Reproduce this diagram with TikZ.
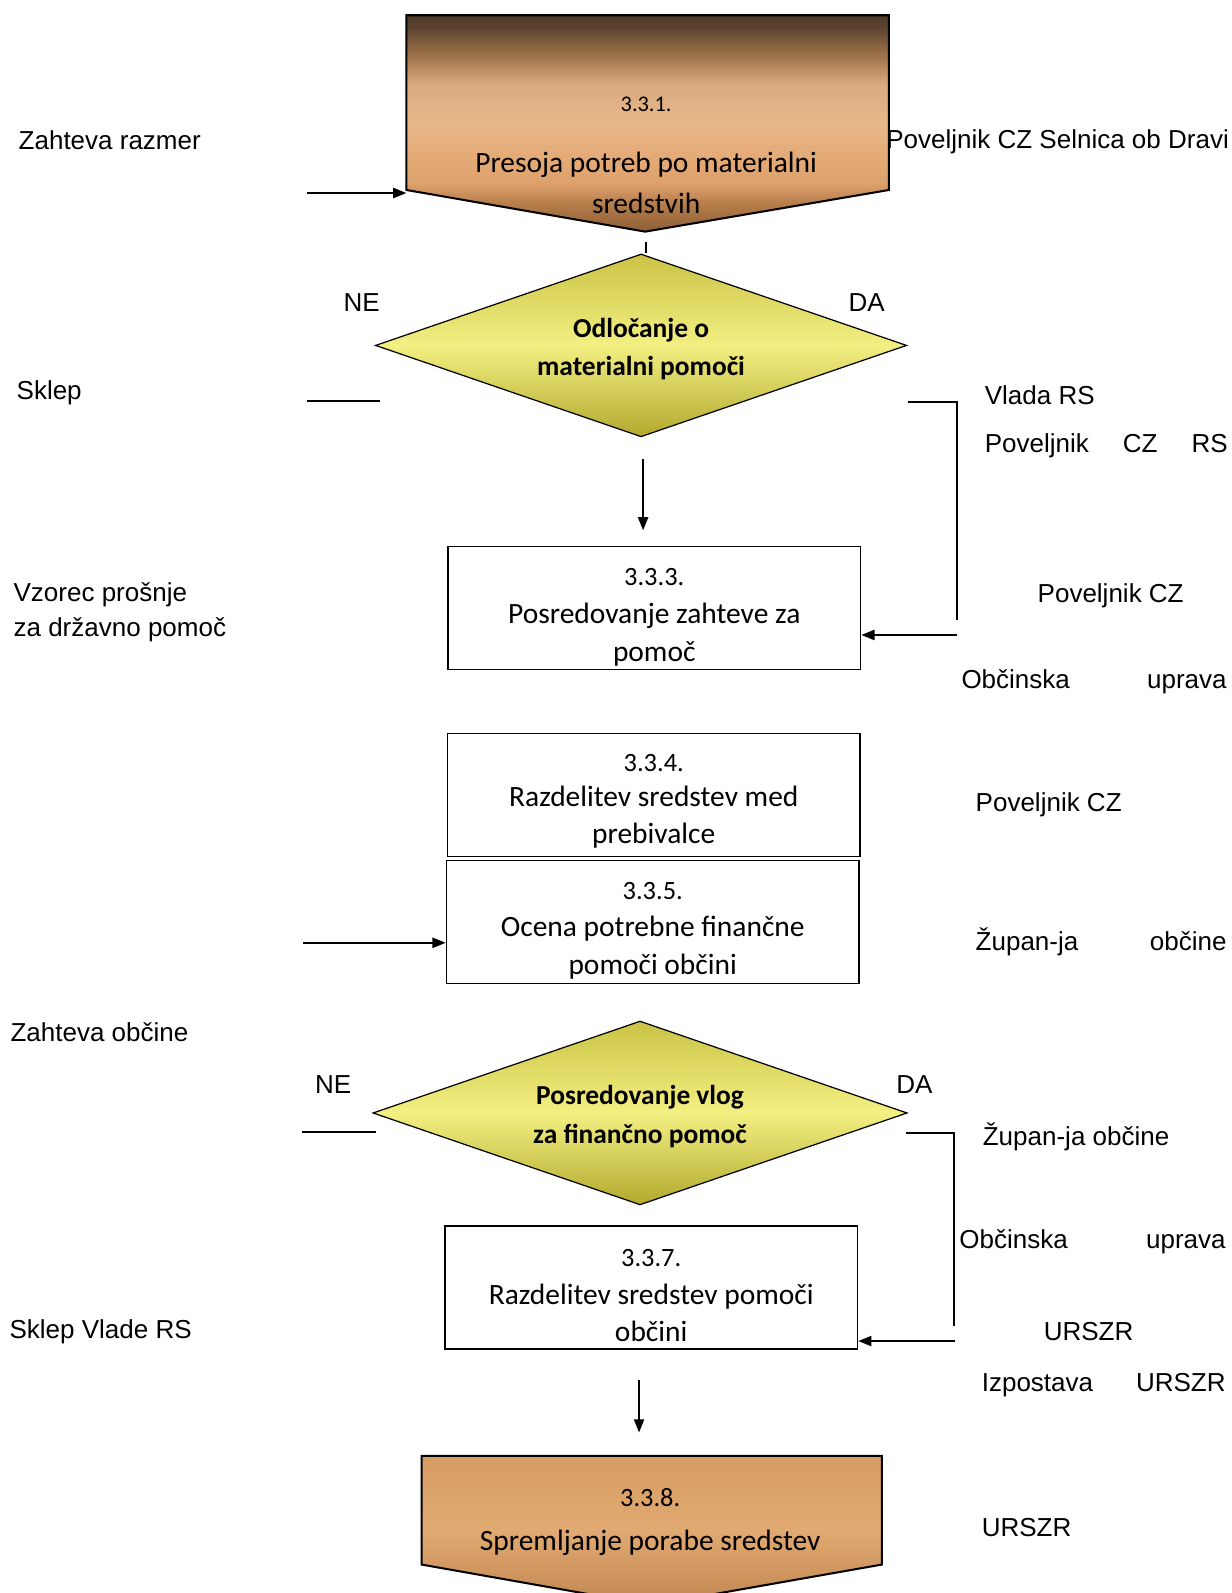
\documentclass[tikz,border=0pt]{standalone}
\usepackage{fontspec}
\setmainfont{Liberation Sans}
\newfontfamily\kalibri{Carlito}
\usetikzlibrary{shapes.geometric}
\usetikzlibrary{arrows.meta}

\definecolor{rjava1}{HTML}{4E3A26}
\definecolor{rjava2}{HTML}{5E4430}
\definecolor{rjava3}{HTML}{9C7148}
\definecolor{rjava4}{HTML}{D9AA7E}
\definecolor{rjava5}{HTML}{E8B88B}
\definecolor{rjava6}{HTML}{E4AA76}
\definecolor{rjava7}{HTML}{DDA06C}
\definecolor{rjava8}{HTML}{B27A48}
\definecolor{rjava9}{HTML}{8E6038}
\definecolor{oranz1}{HTML}{D59C63}
\definecolor{oranz2}{HTML}{E1AA72}
\definecolor{oranz3}{HTML}{C0864F}
\definecolor{rumena1}{HTML}{CBC346}
\definecolor{rumena2}{HTML}{F3EF82}
\definecolor{rumena3}{HTML}{B2A92E}

\pgfdeclareverticalshading{rjava}{100bp}{color(0bp)=(rjava9); color(25bp)=(rjava9);
  color(31bp)=(rjava8); color(36bp)=(rjava7); color(42bp)=(rjava6); color(50bp)=(rjava5);
  color(59bp)=(rjava4); color(66bp)=(rjava3); color(72bp)=(rjava2); color(75bp)=(rjava1);
  color(100bp)=(rjava1)}

\tikzset{
  korak/.style={draw, line width=0.8pt, rectangle, minimum width=203pt,
    minimum height=60.5pt, inner sep=0pt, align=center,
    font={\kalibri\fontsize{14.5}{18.5}\selectfont}},
  odlocitev/.style={draw, line width=0.6pt, diamond, aspect=2.9, minimum width=261.5pt,
    minimum height=90pt, inner sep=0pt, align=center,
    top color=rumena1, bottom color=rumena3, middle color=rumena2,
    font={\kalibri\bfseries\fontsize{13.5}{19}\selectfont}},
  oznaka/.style={anchor=west, inner sep=0pt, yshift=-1pt, font={\fontsize{12.8}{17.5}\selectfont}},
  puscica/.style={-{Triangle[length=6.5pt, width=5pt]}, line width=0.9pt},
  crta/.style={line width=0.9pt}
}

\begin{document}
\begin{tikzpicture}[x=0.5pt, y=-0.5pt]
   \useasboundingbox (0,0) rectangle (1212,1568);
   \clip (0,0) rectangle (1212,1568);

   % zacetek
   \shadedraw[shading=rjava, line width=1pt]
      (400,15) -- (875,15) -- (875,187) -- (635,228) -- (400,187) -- cycle;
   \coordinate (p331-w) at (400,190);
   \coordinate (p331-s) at (636,238);
   \node[align=center, inner sep=0pt, font={\kalibri\fontsize{14.5}{20}\selectfont}] (p331) at (636,153)
      {{\fontsize{11}{13}\selectfont 3.3.1.}\\[10pt]Presoja potreb po materialni\\sredstvih};

   % prva odlocitev
   \node[odlocitev] (d332) at (631,340) {\rule{0pt}{13pt}Odločanje o\\materialni pomoči};
   \draw[crta] (p331-s) -- (p331-s |- d332.north);
   \node[oznaka, anchor=center] (ne1) at (356,296) {NE};
   \node[oznaka, anchor=center] (da1) at (853,296) {DA};

   \node[korak] (k333) at (644,598.5)
      {\rule{0pt}{17.5pt}{\fontsize{13}{15}\selectfont 3.3.3.}\\Posredovanje zahteve za\\pomoč};
   \node[korak] (k334) at (643.5,782.5)
      {\rule{0pt}{15pt}{\fontsize{13}{15}\selectfont 3.3.4.}\\[-1.5pt]Razdelitev sredstev med\\prebivalce};
   \node[korak] (k335) at (642.5,907.5)
      {\rule{0pt}{17pt}{\fontsize{13}{15}\selectfont 3.3.5.}\\Ocena potrebne finančne\\pomoči občini};

   \coordinate (ne1-a) at (302,395);
   \draw[crta] (ne1-a) -- ++(72,0);
   \coordinate (da1-a) at (894,396);
   \coordinate (da1-b) at (942,610);
   \draw[crta] (da1-a) -| (da1-b);
   \coordinate (da1-c) at (942,625);
   \draw[puscica] (da1-c) -- (k333.east |- da1-c);
   \coordinate (s1-a) at (633,452);
   \coordinate (s1-b) at (633,522);
   \draw[puscica] (s1-a) -- (s1-b);

   \coordinate (vhod1) at (302,190);
   \draw[puscica] (vhod1) -- (p331-w);
   \coordinate (vhod2) at (298,928);
   \draw[puscica] (vhod2) -- (k335.west |- vhod2);

   % druga odlocitev
   \node[odlocitev, minimum width=263pt, minimum height=90.5pt] (d336) at (630,1095.5)
      {\rule{0pt}{13pt}Posredovanje vlog\\za finančno pomoč};
   \node[oznaka, anchor=center] (ne2) at (328,1066) {NE};
   \node[oznaka, anchor=center] (da2) at (900,1066) {DA};
   \coordinate (ne2-a) at (297,1114);
   \draw[crta] (ne2-a) -- ++(73,0);
   \coordinate (da2-a) at (892,1115);
   \coordinate (da2-b) at (939,1305);
   \draw[crta] (da2-a) -| (da2-b);

   \node[korak] (k337) at (641,1267.5)
      {\rule{0pt}{16.5pt}{\fontsize{13}{15}\selectfont 3.3.7.}\\Razdelitev sredstev pomoči\\občini};
   \coordinate (da2-c) at (940,1320);
   \draw[puscica] (da2-c) -- (k337.east |- da2-c);
   \coordinate (s2-a) at (629,1358);
   \coordinate (s2-b) at (629,1410);
   \draw[puscica] (s2-a) -- (s2-b);

   % konec
   \shadedraw[top color=oranz1, bottom color=oranz3, middle color=oranz2, line width=1pt]
      (415,1433) -- (868,1433) -- (868,1540) -- (641,1580) -- (415,1540) -- cycle;
   \node[align=center, inner sep=0pt, font={\kalibri\fontsize{14.5}{22}\selectfont}] (p338) at (640,1498)
      {{\fontsize{13}{15}\selectfont 3.3.8.}\\Spremljanje porabe sredstev};

   % levo
   \node[oznaka] (l1) at (18,136) {Zahteva razmer};
   \node[oznaka] (l2) at (16,385) {Sklep};
   \node[oznaka, align=left] (l3) at (13,600.5) {Vzorec prošnje\\za državno pomoč};
   \node[oznaka] (l4) at (10,1014) {Zahteva občine};
   \node[oznaka] (l5) at (9,1309) {Sklep Vlade RS};

   % desno
   \node[oznaka] (r1) at (872,138) {Poveljnik CZ Selnica ob Dravi};
   \node[oznaka] (r2) at (969,387) {Vlada RS};
   \node[oznaka, text width=119.5pt] (r3) at (969,437) {Poveljnik\hfill CZ\hfill RS};
   \node[oznaka] (r4) at (1021,584) {Poveljnik CZ};
   \node[oznaka, text width=130.5pt] (r5) at (946,669) {Občinska\hfill uprava};
   \node[oznaka] (r6) at (960,790) {Poveljnik CZ};
   \node[oznaka, text width=123.5pt] (r7) at (960,925) {Župan-ja\hfill občine};
   \node[oznaka] (r8) at (967,1117) {Župan-ja občine};
   \node[oznaka, text width=131pt] (r9) at (944,1220) {Občinska\hfill uprava};
   \node[oznaka] (r10) at (1027,1309) {URSZR};
   \node[oznaka, text width=120pt] (r11) at (966,1361) {Izpostava\hfill URSZR};
   \node[oznaka] (r12) at (966,1502) {URSZR};
\end{tikzpicture}
\end{document}
